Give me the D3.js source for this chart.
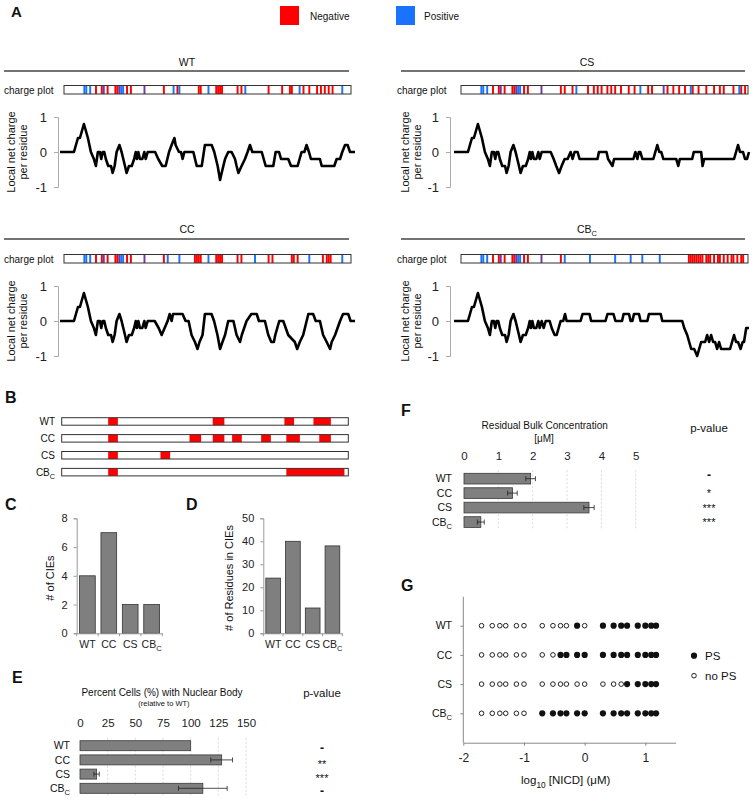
<!DOCTYPE html>
<html>
<head>
<meta charset="utf-8">
<script src="https://cdn.jsdelivr.net/npm/d3@7/dist/d3.min.js"></script>
<style>
  body { margin: 0; background: #fff; }
  svg { display: block; }
</style>
</head>
<body>
<svg id="fig" width="754" height="801"></svg>
<script>
const FONT = '"Liberation Sans", Arial, Helvetica, sans-serif';

const variants = ["WT", "CC", "CS", "CBc"];
const N_RES = 148;

// A: charged residues along the sequence (shared N-terminal part + variant tail)
const nTermNeg = [16, 19, 22, 26, 27, 32, 34];
const nTermPos = [10, 11, 13, 29, 30];
const nTermMix = [20, 28, 41];

const negWT = [51, 58, 69, 70, 78, 79, 80, 81, 89, 91, 105, 112, 116, 117, 123, 126, 130, 132, 134, 136, 138];
const posWT = [56, 59, 74, 93, 121, 143];
const negCC = [51, 67, 68, 69, 70, 78, 79, 80, 81, 89, 91, 105, 107, 117, 118, 120, 133, 135, 136, 137];
const posCC = [53, 59, 74, 98, 126, 143];
const negCS = [51, 53, 57, 65, 68, 70, 72, 75, 77, 79, 82, 86, 89, 96, 98, 106, 109, 112, 115, 119, 122, 126, 130, 133, 135, 140, 144, 146];
const posCS = [59, 92, 118, 143];
const mixCS = [104];
const negCBc = [51, 117, 118, 119, 120, 121, 122, 123, 124, 126, 127, 128, 130, 132, 133, 135, 137, 139, 140, 142, 144, 145];
const posCBc = [53, 66, 79, 87, 93, 102];

// A: local net charge per residue, [residue, charge]
const profileNterm = [[0, 0], [7, 0], [9, 0.4], [10, 0.4], [12, 0.8], [14, 0.4], [15.5, 0], [17, -0.2], [18, -0.4], [19, 0], [20, 0],
  [20.7, -0.2], [21.4, 0], [22.2, 0], [23, -0.2], [24.2, -0.4], [25.6, -0.4], [26.4, -0.6], [27.4, -0.4], [28.4, 0], [29.8, 0.2],
  [30.9, 0], [32.6, -0.4], [33.4, -0.6], [34.6, -0.4], [36, -0.4], [37.2, -0.2], [38, 0], [38.6, -0.2], [39.3, 0], [40.1, -0.2],
  [41.3, -0.2], [42.3, 0], [43, -0.2], [44, 0]];
const profileWT = [[47.7, 0], [49.3, -0.2], [51.3, -0.4], [53, -0.4], [54.7, 0], [56, 0.2], [57.4, 0.4], [58, 0.2], [59.7, 0], [60.7, 0],
  [61.5, -0.2], [62.4, 0], [66.9, 0], [68.6, -0.4], [71.1, -0.4], [72.7, 0.2], [76.1, 0.2], [77.4, 0], [79.1, -0.4], [80.3, -0.8],
  [81.1, -0.6], [82.8, -0.2], [84.4, 0], [86.1, 0], [87.8, -0.2], [88.6, -0.4], [89.5, -0.6], [91.1, -0.4], [92.8, -0.2], [94.1, 0],
  [95.3, 0.2], [96.5, 0], [101.2, 0], [103.2, -0.4], [107, -0.4], [108.2, 0], [109.9, 0], [110.9, -0.2], [114.5, -0.2], [115.9, -0.4],
  [119.2, -0.4], [121.2, 0], [122.6, 0], [123.7, 0.2], [124.9, 0], [125.9, -0.2], [130.4, -0.2], [131.3, -0.4], [137.6, -0.4],
  [138.8, -0.2], [140.5, -0.2], [141.6, 0], [143, 0.2], [144.3, 0.2], [145.5, 0], [148, 0]];
const profileCC = [[47.5, 0], [49.5, -0.2], [51, -0.4], [52.5, -0.2], [54, 0], [55, 0.2], [56, 0], [56.7, 0.2], [61.5, 0.2], [63, 0],
  [64.5, 0], [66, -0.4], [67.7, -0.6], [69, -0.8], [70, -0.6], [71.5, -0.4], [72.7, 0.2], [76, 0.2], [77.3, 0], [79, -0.4], [80.3, -0.8],
  [81.5, -0.6], [82.8, -0.4], [84.4, 0], [87, 0], [88.6, -0.4], [90.3, -0.6], [91.2, -0.4], [93.6, 0], [96, 0.2], [98.7, 0.2],
  [99.8, 0], [102.8, 0], [104.5, -0.4], [106, -0.6], [107.3, -0.6], [108, -0.4], [110, 0], [112, 0], [114.5, -0.4], [117.8, -0.6],
  [119, -0.8], [120.3, -0.6], [122, -0.4], [124.6, 0.2], [127, 0.2], [128.3, 0], [130.4, 0], [132, -0.4], [133.8, -0.6], [135.5, -0.8],
  [136.3, -0.6], [138, -0.4], [140.5, 0], [142, 0.2], [144.6, 0.2], [145.8, 0], [148, 0]];
const profileCS = [[48.5, 0], [50, -0.2], [51.3, -0.4], [52.7, -0.6], [54, -0.4], [55.5, -0.2], [57, -0.2], [58.5, 0], [59.5, -0.2],
  [60.5, 0], [62, 0], [63, -0.2], [72, -0.2], [72.7, 0], [76.5, 0], [77.3, -0.2], [79.5, -0.4], [80.3, -0.2], [90, -0.2], [91, 0],
  [92, -0.2], [92.7, 0], [93.5, 0], [94.5, -0.2], [100, -0.2], [101, 0], [102, 0.2], [103, 0], [104, 0], [105, -0.2], [111.5, -0.2],
  [112.5, -0.4], [113.3, -0.2], [119.5, -0.2], [120.3, 0], [124, 0], [124.7, -0.4], [125.5, -0.2], [140.5, -0.2], [142.5, 0.2],
  [143.5, 0], [145, 0], [146, -0.2], [147, -0.2], [148, 0]];
const profileCBc = [[45, -0.2], [46, 0], [48, 0], [49, -0.2], [50.5, -0.4], [51.5, -0.4], [52.5, -0.2], [53.5, 0], [54.8, 0], [55.7, 0.2],
  [56.5, 0], [63.5, 0], [64.5, 0.2], [68, 0.2], [68.8, 0], [76, 0], [77, 0.2], [80, 0.2], [81, 0], [84.3, 0], [85.1, 0.2], [87.8, 0.2],
  [88.6, 0], [89.5, 0], [90.3, 0.2], [92.8, 0.2], [93.6, 0], [97, 0], [97.8, 0.2], [103.7, 0.2], [104.5, 0], [114.5, 0], [115.5, -0.2],
  [117, -0.4], [118, -0.6], [119, -0.8], [120.5, -0.8], [122, -1.0], [123, -0.8], [124, -0.6], [126, -0.6], [127, -0.4], [128, -0.6],
  [129, -0.4], [130, -0.6], [131, -0.6], [132, -0.8], [133, -0.6], [134, -0.8], [135, -0.8], [138.5, -0.8], [139.5, -0.6],
  [140.5, -0.4], [141.5, -0.6], [142.5, -0.6], [143.8, -0.8], [144.8, -0.6], [145.5, -0.6], [146.6, -0.2], [148, -0.2]];

// B: charge-interaction elements, [start, end] residue
const cieWT = [[24, 29], [78, 84], [115, 120], [130, 139]];
const cieCC = [[24, 29], [66, 72], [78, 84], [88, 93], [103, 108], [116, 123], [133, 139]];
const cieCS = [[24, 29], [51, 56]];
const cieCBc = [[24, 29], [116, 146]];

// C, D
const cieCount = [4, 7, 2, 2];
const cieResidues = [24, 40, 11, 38];

// E
const nbValues = [100, 128, 15, 111];
const nbErr = [0, 9.8, 2.4, 22];
const nbP = ["-", "**", "***", "-"];
const nbTicks = [0, 25, 50, 75, 100, 125, 150];

// F
const bulkValues = [1.94, 1.41, 3.64, 0.49];
const bulkErr = [0.14, 0.14, 0.15, 0.1];
const bulkP = ["-", "*", "***", "***"];
const bulkTicks = [0, 1, 2, 3, 4, 5];

// G: NICD concentrations (uM) and phase separation (1 = PS)
const nicdConc = [0.02, 0.03, 0.04, 0.05, 0.075, 0.1, 0.2, 0.3, 0.4, 0.5, 0.75, 1, 2, 3, 4, 5, 7.5, 10, 12.5, 15];
const psWT = [0, 0, 0, 0, 0, 0, 0, 0, 0, 0, 1, 0, 1, 1, 1, 1, 1, 1, 1, 1];
const psCC = [0, 0, 0, 0, 0, 0, 0, 0, 1, 1, 1, 1, 1, 1, 1, 1, 1, 1, 1, 1];
const psCS = [0, 0, 0, 0, 0, 0, 0, 0, 0, 0, 0, 0, 0, 0, 0, 1, 1, 1, 1, 1];
const psCBc = [0, 0, 0, 0, 0, 0, 1, 1, 1, 1, 1, 1, 1, 1, 1, 1, 1, 1, 1, 1];
const logTicks = [-2, -1, 0, 1];

const charges = {
  WT: {neg: nTermNeg.concat(negWT), pos: nTermPos.concat(posWT), mix: nTermMix},
  CC: {neg: nTermNeg.concat(negCC), pos: nTermPos.concat(posCC), mix: nTermMix},
  CS: {neg: nTermNeg.concat(negCS), pos: nTermPos.concat(posCS), mix: nTermMix.concat(mixCS)},
  CBc: {neg: nTermNeg.concat(negCBc), pos: nTermPos.concat(posCBc), mix: nTermMix}
};
const profiles = {
  WT: profileNterm.concat(profileWT), CC: profileNterm.concat(profileCC),
  CS: profileNterm.concat(profileCS), CBc: profileNterm.concat(profileCBc)
};
const cies = {WT: cieWT, CC: cieCC, CS: cieCS, CBc: cieCBc};
const psCalls = {WT: psWT, CC: psCC, CS: psCS, CBc: psCBc};

const svg = d3.select("#fig").attr("font-family", FONT).attr("fill", "#111");

// names like CB_C get a subscript
function nameText(sel, name) {
  if (name === "CBc") {
    sel.text("CB");
    sel.append("tspan").attr("font-size", "0.72em").attr("dy", "0.4em").text("C");
  } else {
    sel.text(name);
  }
}

function styleAxis(g, color, size) {
  g.attr("font-family", FONT).attr("font-size", size);
  g.select(".domain").attr("stroke", color);
  g.selectAll(".tick line").attr("stroke", color);
  g.selectAll(".tick text").attr("fill", "#222");
}

function panelLabel(t, x, y, size) {
  svg.append("text").attr("x", x).attr("y", y).attr("font-size", size || 16)
    .attr("font-weight", "bold").text(t);
}

const RED = "#ff0000", BLUE = "#1a73ff", PURPLE = "#6f3aa8";

// ---------------- A ----------------
panelLabel("A", 11, 17, 15);
svg.append("rect").attr("x", 280).attr("y", 6).attr("width", 19).attr("height", 19).attr("fill", RED);
svg.append("text").attr("x", 310).attr("y", 16).attr("dy", "0.35em").attr("font-size", 10).text("Negative");
svg.append("rect").attr("x", 396).attr("y", 6).attr("width", 19).attr("height", 19).attr("fill", BLUE);
svg.append("text").attr("x", 424).attr("y", 16).attr("dy", "0.35em").attr("font-size", 10).text("Positive");

const colA = [
  {hline: [4, 349], title: 187, label: 4, strip: [64, 351], line: [60, 355], axis: 58, ytitle: [11, 23]},
  {hline: [401, 745], title: 587, label: 397, strip: [461, 748], line: [454, 749], axis: 450, ytitle: [405, 417]}
];
const rowA = [
  {title: 62, hline: 71, strip: 85.5, zero: 152},
  {title: 229, hline: 239, strip: 254.5, zero: 321}
];
const placeA = {WT: [0, 0], CS: [1, 0], CC: [0, 1], CBc: [1, 1]};
const chargeColor = {neg: RED, pos: BLUE, mix: PURPLE};

variants.forEach(v => {
  const c = colA[placeA[v][0]], r = rowA[placeA[v][1]];
  const g = svg.append("g");

  g.append("text").attr("x", c.title).attr("y", r.title).attr("dy", "0.35em")
    .attr("text-anchor", "middle").attr("font-size", 10.5).call(s => nameText(s, v));
  g.append("line").attr("x1", c.hline[0]).attr("x2", c.hline[1])
    .attr("y1", r.hline).attr("y2", r.hline).attr("stroke", "#444").attr("stroke-width", 1.5);

  // charge strip
  g.append("text").attr("x", c.label).attr("y", r.strip + 4.5).attr("dy", "0.35em")
    .attr("font-size", 10).text("charge plot");
  const xs = d3.scaleLinear().domain([0, N_RES]).range(c.strip);
  const marks = [];
  Object.keys(charges[v]).forEach(t => charges[v][t].forEach(i => marks.push({i, t})));
  g.selectAll("rect.res").data(marks).join("rect").attr("class", "res")
    .attr("x", d => xs(d.i)).attr("width", d => xs(d.i + 1) - xs(d.i))
    .attr("y", r.strip).attr("height", 8.5).attr("fill", d => chargeColor[d.t]);
  g.append("rect").attr("x", c.strip[0]).attr("y", r.strip)
    .attr("width", c.strip[1] - c.strip[0]).attr("height", 8.5)
    .attr("fill", "none").attr("stroke", "#333").attr("stroke-width", 1);

  // net charge profile
  const xl = d3.scaleLinear().domain([0, N_RES]).range(c.line);
  const yl = d3.scaleLinear().domain([-1, 1]).range([r.zero + 35, r.zero - 35]);
  g.append("g").attr("transform", `translate(${c.axis},0)`)
    .call(d3.axisLeft(yl).tickValues([-1, 0, 1]).tickSize(4).tickPadding(7).tickFormat(d => String(d)))
    .call(a => styleAxis(a, "#aaa", 13));
  g.append("path").datum(profiles[v])
    .attr("d", d3.line().x(d => xl(d[0])).y(d => yl(d[1])))
    .attr("fill", "none").attr("stroke", "#000").attr("stroke-width", 2.6).attr("stroke-linejoin", "round");

  g.append("text").attr("transform", `translate(${c.ytitle[0]},${r.zero}) rotate(-90)`)
    .attr("text-anchor", "middle").attr("dy", "0.35em").attr("font-size", 11).text("Local net charge");
  g.append("text").attr("transform", `translate(${c.ytitle[1]},${r.zero}) rotate(-90)`)
    .attr("text-anchor", "middle").attr("dy", "0.35em").attr("font-size", 11).text("per residue");
});

// ---------------- B ----------------
panelLabel("B", 5, 403);
const xB = d3.scaleLinear().domain([0, N_RES]).range([61.7, 348.3]);
const yB = d3.scaleBand().domain(variants).range([417.7, 475.9]).paddingInner(0.556);
const gB = svg.append("g");
variants.forEach(v => {
  const y0 = yB(v);
  gB.append("rect").attr("x", xB(0)).attr("y", y0).attr("width", xB(N_RES) - xB(0))
    .attr("height", yB.bandwidth()).attr("fill", "#fff");
  gB.selectAll(null).data(cies[v]).join("rect")
    .attr("x", d => xB(d[0])).attr("width", d => xB(d[1]) - xB(d[0]))
    .attr("y", y0).attr("height", yB.bandwidth()).attr("fill", RED);
  gB.append("rect").attr("x", xB(0)).attr("y", y0).attr("width", xB(N_RES) - xB(0))
    .attr("height", yB.bandwidth()).attr("fill", "none").attr("stroke", "#333").attr("stroke-width", 1);
  gB.append("text").attr("x", 55).attr("y", y0 + yB.bandwidth() / 2).attr("dy", "0.35em")
    .attr("text-anchor", "end").attr("font-size", 10).call(s => nameText(s, v));
});

// ---------------- C & D ----------------
function smallBars(cfg) {
  const g = svg.append("g");
  const x = d3.scaleBand().domain(variants).range(cfg.xr).paddingInner(cfg.pad).paddingOuter(cfg.pad / 2);
  const y = d3.scaleLinear().domain(cfg.yd).range([633.3, 518.3]);
  g.selectAll("rect").data(cfg.values).join("rect")
    .attr("x", (d, i) => x(variants[i])).attr("width", x.bandwidth())
    .attr("y", d => y(d)).attr("height", d => y(0) - y(d))
    .attr("fill", "#7f7f7f").attr("stroke", "#333").attr("stroke-width", 0.8);
  g.append("g").attr("transform", `translate(${cfg.xr[0]},0)`)
    .call(d3.axisLeft(y).tickValues(cfg.ticks).tickSize(3).tickPadding(6))
    .call(a => styleAxis(a, "#999", 11));
  const ax = g.append("g").attr("transform", `translate(0,${y(0)})`)
    .call(d3.axisBottom(x).tickSize(0).tickPadding(7))
    .call(a => styleAxis(a, "#999", 10.5));
  ax.selectAll(".tick text").each(function (d) { if (d === "CBc") nameText(d3.select(this), d); });
  ax.selectAll("line.sep").data(d3.range(variants.length + 1)).join("line").attr("class", "sep")
    .attr("x1", i => cfg.xr[0] + i * x.step()).attr("x2", i => cfg.xr[0] + i * x.step())
    .attr("y1", 0).attr("y2", 3).attr("stroke", "#999");
  g.append("text").attr("transform", `translate(${cfg.titleX},578) rotate(-90)`)
    .attr("text-anchor", "middle").attr("dy", "0.35em").attr("font-size", 11).text(cfg.title);
}
panelLabel("C", 5, 510);
smallBars({values: cieCount, xr: [76.7, 162.3], pad: 0.266, yd: [0, 8], ticks: [0, 2, 4, 6, 8], titleX: 50, title: "# of CIEs"});
panelLabel("D", 186, 510);
smallBars({values: cieResidues, xr: [263.3, 342.3], pad: 0.256, yd: [0, 50], ticks: [0, 10, 20, 30, 40, 50], titleX: 229, title: "# of Residues in CIEs"});

// ---------------- E & F ----------------
function hBars(cfg) {
  const g = svg.append("g");
  const x = d3.scaleLinear().domain(cfg.xd).range(cfg.xr);
  const y = d3.scaleBand().domain(variants).range(cfg.yr).paddingInner(cfg.pad);
  const top = cfg.yr[0] - 3, bottom = cfg.yr[1] + 2;
  g.selectAll("line.grid").data(cfg.ticks.filter(t => t > 0)).join("line").attr("class", "grid")
    .attr("x1", d => x(d)).attr("x2", d => x(d)).attr("y1", top).attr("y2", bottom)
    .attr("stroke", "#cfcfcf").attr("stroke-width", 0.8).attr("stroke-dasharray", "2,2");
  g.append("g").attr("transform", `translate(0,${cfg.tickY})`)
    .call(d3.axisTop(x).tickValues(cfg.ticks).tickSize(0).tickPadding(0).tickFormat(d => String(d)))
    .call(a => { styleAxis(a, "none", 11.5); a.select(".domain").remove(); });
  g.selectAll("rect").data(cfg.values).join("rect")
    .attr("x", x(0)).attr("width", d => x(d) - x(0))
    .attr("y", (d, i) => y(variants[i])).attr("height", y.bandwidth())
    .attr("fill", "#7f7f7f").attr("stroke", "#3a3a3a").attr("stroke-width", 0.8);
  cfg.values.forEach((d, i) => {
    const e = cfg.err[i];
    if (!e) return;
    const cy = y(variants[i]) + y.bandwidth() / 2;
    g.append("line").attr("x1", x(d - e)).attr("x2", x(d + e)).attr("y1", cy).attr("y2", cy)
      .attr("stroke", "#222").attr("stroke-width", 0.8);
    [d - e, d + e].forEach(t => g.append("line").attr("x1", x(t)).attr("x2", x(t))
      .attr("y1", cy - 2.5).attr("y2", cy + 2.5).attr("stroke", "#222").attr("stroke-width", 0.8));
  });
  variants.forEach((v, i) => {
    const cy = y(v) + y.bandwidth() / 2;
    g.append("text").attr("x", cfg.labelX).attr("y", cy).attr("dy", "0.35em")
      .attr("text-anchor", "end").attr("font-size", 10.5).call(s => nameText(s, v));
    // p-value marks: baseline placed so the glyph sits where the reference shows it
    const dash = cfg.p[i] === "-";
    const size = dash ? 12 : 11;
    const base = cy + (dash ? cfg.dashShift + 0.29 * size : cfg.starShift + 0.58 * size);
    g.append("text").attr("x", cfg.pX).attr("y", base)
      .attr("text-anchor", "middle").attr("font-size", size)
      .attr("font-weight", dash ? "bold" : "normal").text(cfg.p[i]);
  });
  g.append("text").attr("x", cfg.pX).attr("y", cfg.pY).attr("text-anchor", "middle")
    .attr("font-size", 11.5).text("p-value");
  cfg.titles.forEach(t => g.append("text").attr("x", t.x).attr("y", t.y).attr("text-anchor", "middle")
    .attr("font-size", t.size).text(t.text));
}

panelLabel("E", 12, 683);
hBars({
  values: nbValues, err: nbErr, p: nbP, ticks: nbTicks, xd: [0, 150], xr: [80, 246],
  yr: [740.7, 793.3], pad: 0.296, tickY: 727, labelX: 70, pX: 322, pY: 697,
  starShift: 1.5, dashShift: 3.3,
  titles: [{text: "Percent Cells (%) with Nuclear Body", x: 162, y: 695.5, size: 10},
           {text: "(relative to WT)", x: 164, y: 706, size: 7.5}]
});

panelLabel("F", 401, 416);
hBars({
  values: bulkValues, err: bulkErr, p: bulkP, ticks: bulkTicks, xd: [0, 5], xr: [464, 635.7],
  yr: [473.3, 527.4], pad: 0.26, tickY: 460, labelX: 452, pX: 709, pY: 432,
  starShift: -2.3, dashShift: -2.7,
  titles: [{text: "Residual Bulk Concentration", x: 544.7, y: 429, size: 10},
           {text: "[\u03bcM]", x: 544, y: 442, size: 10}]
});

// ---------------- G ----------------
panelLabel("G", 401, 591);
const xG = d3.scaleLinear().domain([-2, 1.5]).range([463.3, 675.7]);
const yG = d3.scalePoint().domain(variants).range([625.7, 713.3]);
const gG = svg.append("g");
gG.append("g").attr("transform", "translate(0,742.7)")
  .call(d3.axisBottom(xG).tickValues(logTicks).tickSize(3).tickPadding(8).tickFormat(d => String(d)).tickSizeOuter(0))
  .call(a => styleAxis(a, "#888", 12));
gG.append("g").attr("transform", "translate(463.3,0)")
  .call(d3.axisLeft(yG).tickSize(3).tickPadding(8).tickFormat(() => ""))
  .call(a => styleAxis(a, "#888", 10.5))
  .call(a => a.select(".domain").attr("d", "M0,596.7V742.7"));
variants.forEach(v => {
  gG.append("text").attr("x", 452).attr("y", yG(v)).attr("dy", "0.35em")
    .attr("text-anchor", "end").attr("font-size", 10.5).call(s => nameText(s, v));
  gG.selectAll(null).data(nicdConc.map((c, i) => ({c, ps: psCalls[v][i]}))).join("circle")
    .attr("cx", d => xG(Math.log10(d.c))).attr("cy", yG(v))
    .attr("r", d => d.ps ? 3.1 : 2.3)
    .attr("fill", d => d.ps ? "#111" : "#fff")
    .attr("stroke", "#222").attr("stroke-width", d => d.ps ? 0 : 1);
});
const xt = gG.append("text").attr("x", 565.7).attr("y", 784).attr("text-anchor", "middle").attr("font-size", 11.5);
xt.append("tspan").text("log");
xt.append("tspan").attr("font-size", "0.72em").attr("dy", "0.45em").text("10");
xt.append("tspan").attr("dy", "-0.33em").text(" [NICD] (\u03bcM)");

gG.append("circle").attr("cx", 694).attr("cy", 655.7).attr("r", 3.1).attr("fill", "#111");
gG.append("text").attr("x", 705).attr("y", 655.7).attr("dy", "0.35em").attr("font-size", 11.5).text("PS");
gG.append("circle").attr("cx", 694).attr("cy", 675.7).attr("r", 2.3).attr("fill", "#fff").attr("stroke", "#222");
gG.append("text").attr("x", 705).attr("y", 675.7).attr("dy", "0.35em").attr("font-size", 11.5).text("no PS");
</script>
</body>
</html>
